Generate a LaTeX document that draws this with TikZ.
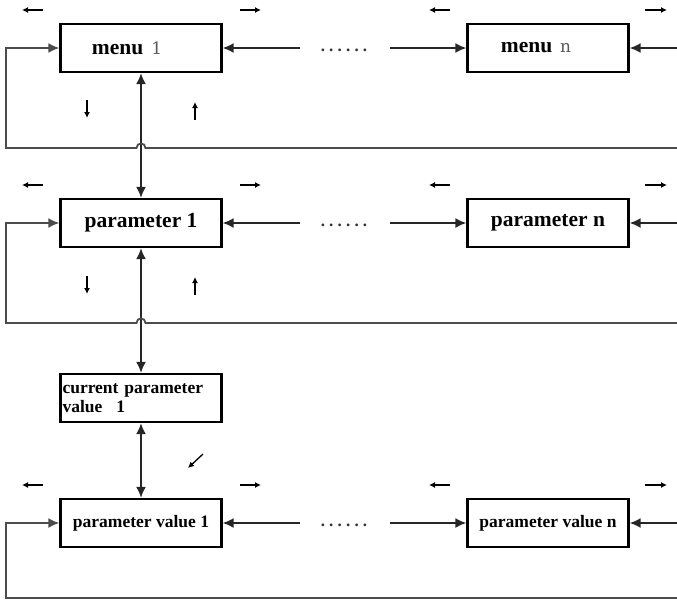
\documentclass[tikz,border=0pt]{standalone}
\usepackage{fontspec}
\setmainfont{Liberation Serif}
\newfontfamily\numfont{DejaVu Serif}
\usetikzlibrary{arrows.meta}
\newcommand{\dotrow}{.\hspace{4.2pt}.\hspace{4.2pt}.\hspace{4.2pt}.\hspace{4.2pt}.\hspace{4.2pt}.}
\newcommand{\lightnum}[1]{{\numfont\mdseries\color{black!65}\fontsize{17}{20}\selectfont #1}}
\begin{document}
\begin{tikzpicture}[x=1pt,y=-1pt,
 box/.style={draw, line width=2.3pt, minimum width=161pt, minimum height=48pt, inner sep=0pt},
 big/.style={font=\bfseries\fontsize{21.5}{24}\selectfont},
 mid/.style={font=\bfseries\fontsize{17.5}{19}\selectfont},
 conn/.style={line width=1.8pt, draw=black!85},
 tip/.style={-{Latex[length=11pt,width=10pt]}},
 dtip/.style={{Latex[length=11pt,width=10pt]}-{Latex[length=11pt,width=10pt]}},
 fb/.style={line width=1.8pt, draw=black!70},
 smallarr/.style={line width=1.3pt, -{Latex[length=6pt,width=6pt]}},
 dots/.style={font=\bfseries\fontsize{17}{17}\selectfont, anchor=base, text=black!80}
]
\useasboundingbox (0,0) rectangle (677,600);
% boxes
\node[box,big] (m1) at (141,48) {menu\hspace{8pt}\lightnum{1}\hspace*{28pt}};
\node[box,big] (mn) at (548,48) {menu\hspace{8pt}\lightnum{n}\hspace*{24pt}};
\node[box,big] (p1) at (141,223) {parameter 1};
\node[box,big] (pn) at (548,223) {parameter n};
\node[box,mid,text width=157pt,align=left,inner xsep=2pt] (cur) at (141,398) {current parameter\\value\hspace{14pt}1};
\node[box,mid] (pv1) at (141,523) {parameter value 1};
\node[box,mid] (pvn) at (548,523) {parameter value n};
% dots
\node[dots] (d1) at (344,51) {\dotrow};
\node[dots] (d2) at (344,226) {\dotrow};
\node[dots] (d3) at (344,526) {\dotrow};
% free ends
\coordinate (a1) at (300,48);  \coordinate (b1) at (390,48);  \coordinate (c1) at (677,48);
\coordinate (a2) at (300,223); \coordinate (b2) at (390,223); \coordinate (c2) at (677,223);
\coordinate (a3) at (300,523); \coordinate (b3) at (390,523); \coordinate (c3) at (677,523);
% vertical connectors
\draw[conn,dtip] (m1.south) -- (p1.north);
\draw[conn,dtip] (p1.south) -- (cur.north);
\draw[conn,dtip] (cur.south) -- (pv1.north);
% horizontal connectors
\foreach \r/\L/\R in {1/m1/mn,2/p1/pn,3/pv1/pvn}{
  \draw[conn,tip] (a\r) -- (\L.east);
  \draw[conn,tip] (b\r) -- (\R.west);
  \draw[conn,tip] (c\r) -- (\R.east);
}
% feedback lines
\draw[fb,tip] (677,148) -- (145.5,148) .. controls (145.5,142) and (136.5,142) .. (136.5,148) -- (6,148) |- (m1.west);
\draw[fb,tip] (677,323) -- (145.5,323) .. controls (145.5,317) and (136.5,317) .. (136.5,323) -- (6,323) |- (p1.west);
\draw[fb,tip] (677,598) -- (6,598) |- (pv1.west);
% small arrows
\foreach \y in {10,185,485}{
  \draw[smallarr] (43,\y) -- (22,\y);
  \draw[smallarr] (240,\y) -- (261,\y);
  \draw[smallarr] (450,\y) -- (429,\y);
  \draw[smallarr] (645,\y) -- (667,\y);
}
\draw[smallarr] (87,100) -- (87,118);
\draw[smallarr] (195,120) -- (195,102);
\draw[smallarr] (87,276) -- (87,294);
\draw[smallarr] (195,295) -- (195,277);
\draw[smallarr] (203,454) -- (188,468);
\end{tikzpicture}
\end{document}
